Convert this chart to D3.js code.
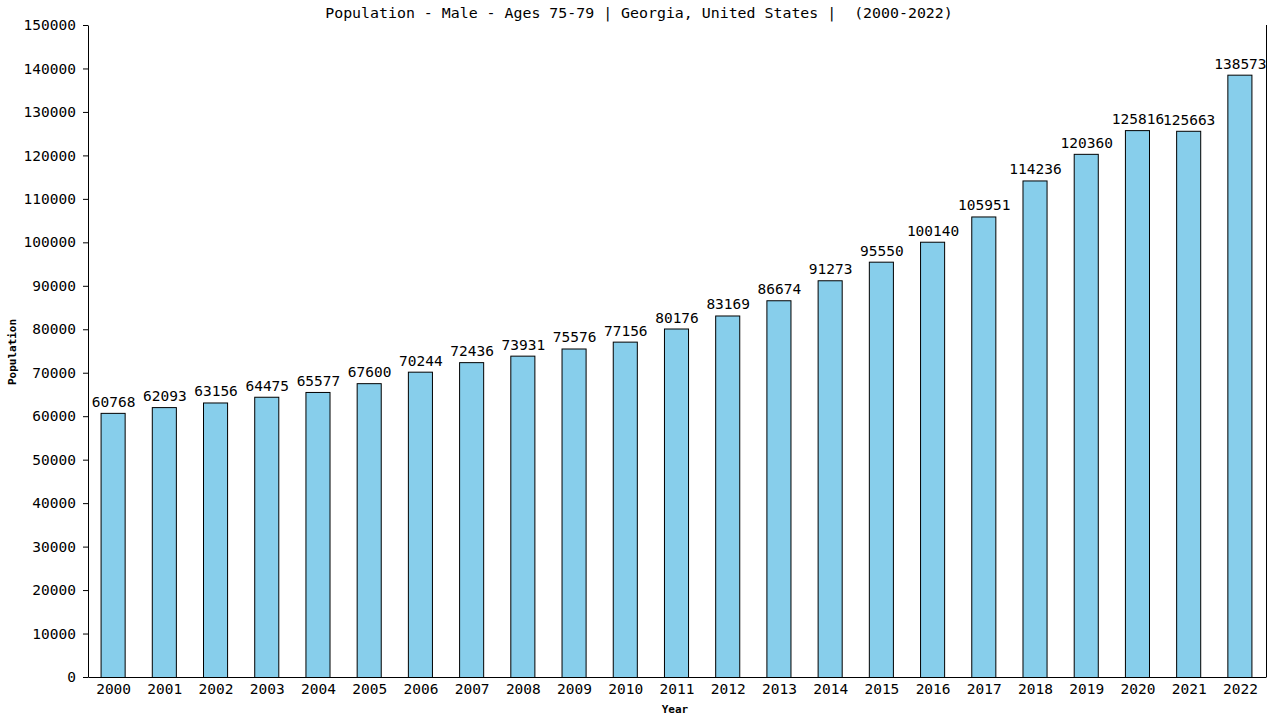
<!DOCTYPE html>
<html>
<head>
<meta charset="utf-8">
<script src="https://cdn.jsdelivr.net/npm/d3@7"></script>
<style>
  body { margin: 0; background: #fff; }
  text { font-family: "DejaVu Sans Mono", monospace; fill: #000; }
</style>
</head>
<body>
<svg id="chart" width="1280" height="720"></svg>
<script>
var years = ["2000","2001","2002","2003","2004","2005","2006","2007","2008","2009","2010","2011",
             "2012","2013","2014","2015","2016","2017","2018","2019","2020","2021","2022"];
var population = [60768, 62093, 63156, 64475, 65577, 67600, 70244, 72436, 73931, 75576, 77156, 80176,
                  83169, 86674, 91273, 95550, 100140, 105951, 114236, 120360, 125816, 125663, 138573];
var yTicks = d3.range(0, 150001, 10000);

var barColor = "#87ceeb";

function drawChart() {
  var svg = d3.select("#chart");
  var mLeft = 88, mRight = 1266, mTop = 25, mBottom = 677;

  var x = d3.scaleBand().domain(years).range([mLeft, mRight]).paddingInner(0.53).paddingOuter(0.265);
  var y = d3.scaleLinear().domain([0, 150000]).range([mBottom, mTop]);

  // title
  svg.append("text")
    .attr("x", 639).attr("y", 18)
    .attr("text-anchor", "middle")
    .style("font-size", "14.9px")
    .style("white-space", "pre")
    .text("Population - Male - Ages 75-79 | Georgia, United States |  (2000-2022)");

  // bars
  svg.selectAll("rect.bar")
    .data(population)
    .enter().append("rect")
    .attr("class", "bar")
    .attr("x", (d, i) => x(years[i]) - 0.5)
    .attr("y", d => y(d) + 0.5)
    .attr("width", x.bandwidth())
    .attr("height", d => mBottom - y(d))
    .attr("fill", barColor)
    .attr("stroke", "#000")
    .attr("stroke-width", 1);

  // value labels
  svg.selectAll("text.val")
    .data(population)
    .enter().append("text")
    .attr("class", "val")
    .attr("x", (d, i) => x(years[i]) + x.bandwidth() / 2)
    .attr("y", d => y(d) - 6)
    .attr("text-anchor", "middle")
    .style("font-size", "14.5px")
    .text(d => d);

  // y axis
  var yAxis = svg.append("g")
    .attr("transform", "translate(" + mLeft + ",0)")
    .call(d3.axisLeft(y).tickValues(yTicks).tickFormat(d3.format("d")).tickSize(5).tickPadding(7).tickSizeOuter(0));
  yAxis.selectAll("text").style("font-size", "14.5px").style("font-family", "DejaVu Sans Mono, monospace");
  yAxis.selectAll("line, path").attr("stroke", "#000");

  // x axis
  var xAxis = svg.append("g")
    .attr("transform", "translate(0," + mBottom + ")")
    .call(d3.axisBottom(x).tickSize(0).tickPadding(7).tickSizeOuter(0));
  xAxis.selectAll("text").style("font-size", "14.5px").style("font-family", "DejaVu Sans Mono, monospace");
  xAxis.select("path").attr("stroke", "#000");

  // right border
  svg.append("line")
    .attr("x1", mRight + 0.5).attr("x2", mRight + 0.5)
    .attr("y1", mTop).attr("y2", mBottom)
    .attr("stroke", "#000");

  // axis titles
  svg.append("text")
    .attr("x", 675).attr("y", 713)
    .attr("text-anchor", "middle")
    .style("font-size", "11px").style("font-weight", "bold")
    .text("Year");

  svg.append("text")
    .attr("transform", "translate(16,352) rotate(-90)")
    .attr("text-anchor", "middle")
    .style("font-size", "11px").style("font-weight", "bold")
    .text("Population");
}

drawChart();
</script>
</body>
</html>
